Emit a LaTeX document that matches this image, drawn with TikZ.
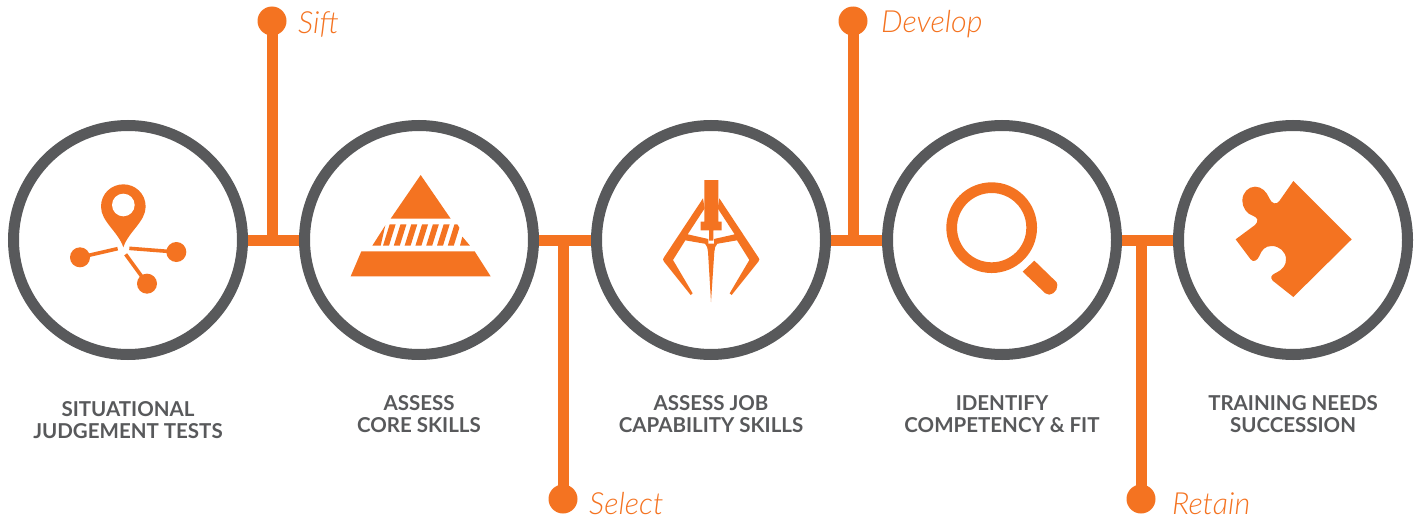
\documentclass[tikz,border=0pt]{standalone}
\usepackage{fontspec}
\setmainfont{Lato}
\newfontfamily\lightit{Lato Light Italic}
\definecolor{org}{HTML}{F47321}
\definecolor{gry}{HTML}{58595B}
\tikzset{
  x=1pt,y=-1pt,
  ring/.style={circle,draw=gry,line width=11pt,fill=white,minimum size=229pt,inner sep=0pt},
  conn/.style={draw=org,line width=11pt},
  dotn/.style={circle,fill=org,minimum size=29pt,inner sep=0pt},
  lab/.style={font=\fontsize{30.5}{32}\selectfont\lightit,text=org,anchor=west,inner sep=0pt},
  captext/.style={font=\fontsize{20.5}{22}\selectfont\bfseries,text=gry,align=center,inner sep=0pt},
  iconspace/.style={x=0.33333pt,y=-0.33333pt},
}
\begin{document}
\begin{tikzpicture}
\useasboundingbox (0,0) rectangle (1418,519);
% connectors go first, under the rings
\coordinate (c1c) at (128,240);
\coordinate (c2c) at (419,240);
\coordinate (c3c) at (711,240);
\coordinate (c4c) at (1002,240);
\coordinate (c5c) at (1293,240);
\node[dotn] (d1) at (272,21) {};
\node[dotn] (d2) at (563,499) {};
\node[dotn] (d3) at (853,21) {};
\node[dotn] (d4) at (1141,499) {};
\coordinate (j1) at (272,240);
\coordinate (j2) at (563,240);
\coordinate (j3) at (853,240);
\coordinate (j4) at (1141,240);
\draw[conn] (c1c) -- (c2c) -- (c3c) -- (c4c) -- (c5c);
\draw[conn] (j1) -- (d1.center);
\draw[conn] (j2) -- (d2.center);
\draw[conn] (j3) -- (d3.center);
\draw[conn] (j4) -- (d4.center);
\node[ring] (c1) at (c1c) {};
\node[ring] (c2) at (c2c) {};
\node[ring] (c3) at (c3c) {};
\node[ring] (c4) at (c4c) {};
\node[ring] (c5) at (c5c) {};
% labels
\node[lab] (l1) at (298,24) {Sift};
\node[lab] (l2) at (589,504) {Select};
\node[lab] (l3) at (881,24) {Develop};
\node[lab] (l4) at (1172,504) {Retain};
\node[captext] (t1) at (128,420) {SITUATIONAL\\JUDGEMENT TESTS};
\node[captext] (t2) at (419,414) {ASSESS\\CORE SKILLS};
\node[captext] (t3) at (711,414) {ASSESS JOB\\CAPABILITY SKILLS};
\node[captext] (t4) at (1002,414) {IDENTIFY\\COMPETENCY \& FIT};
\node[captext] (t5) at (1293,414) {TRAINING NEEDS\\SUCCESSION};
% icon 1: pin and network
\begin{scope}[shift={(50pt,-160pt)},iconspace]
\fill[org] (220,262) .. controls (205,215) and (153,185) .. (153,140) .. controls (153,100) and (185,73) .. (220,73) .. controls (255,73) and (287,100) .. (287,140) .. controls (287,185) and (235,215) .. (220,262) -- cycle;
\fill[white] (220,135) circle[radius=34];
\fill[org] (90,292) circle[radius=30];
\fill[org] (379,276) circle[radius=30];
\fill[org] (291,371) circle[radius=30];
\draw[org,line width=3.6pt] (90,292) -- (203,266);
\draw[org,line width=3.6pt] (379,276) -- (238,265);
\draw[org,line width=3.6pt] (291,371) -- (227,283);
\end{scope}
% icon 2: pyramid
\begin{scope}[shift={(340pt,-160pt)},iconspace]
\fill[org] (242,45) -- (332,176) -- (152,176) -- cycle;
\fill[org] (64,274) -- (404,274) -- (452,349) -- (32,349) -- cycle;
\begin{scope}
\clip (135,193) -- (352,193) -- (390,257) -- (97,257) -- cycle;
\foreach \i in {0,...,6}{
  \fill[org] ({149+32.4*\i},193) -- ({167+32.4*\i},193) -- ({147+32.4*\i},257) -- ({129+32.4*\i},257) -- cycle;
}
\fill[org] (136,196) -- (122,257) -- (97,257) -- cycle;
\fill[org] (367,230) -- (390,257) -- (360,257) -- cycle;
\end{scope}
\end{scope}
% icon 3: claw
\begin{scope}[shift={(640pt,-170pt)},iconspace]
\fill[org] (193,30) -- (235,30) -- (235,155) -- (245,155) -- (245,181) -- (220,181) -- (220,212) -- (207,212) -- (207,181) -- (182,181) -- (182,155) -- (193,155) -- cycle;
% arms with their outer fingers
\fill[org] (189,85) -- (194,115) -- (143,193) -- (205,207) -- (205,223) -- (136,211) -- (99,270) -- (158,370) -- (152,375) -- (72,275) .. controls (68,270) and (68,266) .. (72,262) -- cycle;
\fill[org] (238,85) -- (233,115) -- (284,193) -- (222,207) -- (222,223) -- (291,211) -- (328,270) -- (269,370) -- (275,375) -- (355,275) .. controls (359,270) and (359,266) .. (355,262) -- cycle;
% centre finger
\fill[org] (195,221) -- (232,221) .. controls (226,226) and (224,235) .. (223,245) -- (213,396) -- (204,245) .. controls (203,235) and (201,226) .. (195,221) -- cycle;
\end{scope}
% icon 4: magnifier
\begin{scope}[shift={(930pt,-170pt)},iconspace]
\draw[org,line width=10.7pt] (185,173) circle[radius=120];
\fill[org] (313,272) -- (278,305) -- (346,370) .. controls (360,382) and (384,365) .. (382,345) .. controls (382,338) and (378,334) .. (375,332) -- cycle;
\end{scope}
% icon 5: puzzle
\begin{scope}[shift={(1220pt,-170pt)},iconspace]
\fill[org] (220,33) -- (395,208) -- (220,381) -- (158,332) .. controls (150,322) and (154,315) .. (165,310) .. controls (190,298) and (198,285) .. (198,268) .. controls (198,245) and (178,228) .. (155,228) .. controls (135,228) and (125,240) .. (118,258) .. controls (112,272) and (100,278) .. (92,268) -- (47,208) -- (105,165) .. controls (118,153) and (112,142) .. (100,138) .. controls (80,132) and (67,112) .. (67,92) .. controls (67,68) and (85,50) .. (105,50) .. controls (125,50) and (140,65) .. (148,85) .. controls (155,102) and (170,105) .. (178,93) -- cycle;
\end{scope}
\end{tikzpicture}
\end{document}
